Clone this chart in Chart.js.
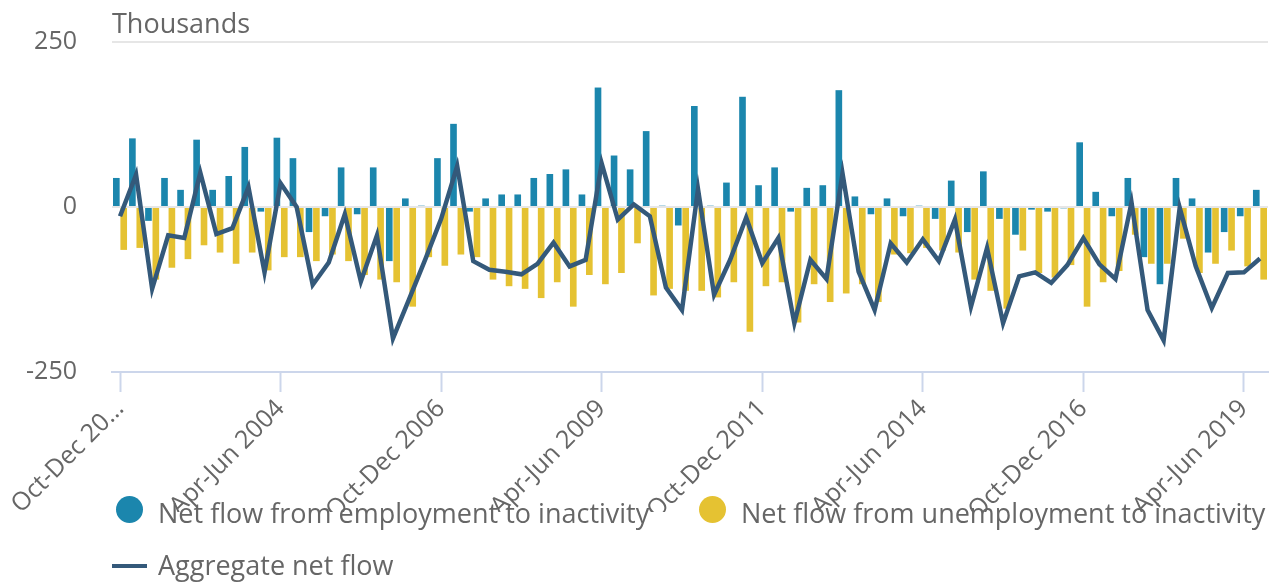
<!DOCTYPE html>
<html>
<head>
<meta charset="utf-8">
<script src="https://cdn.jsdelivr.net/npm/chart.js@4"></script>
<style>
  html, body { margin: 0; padding: 0; background: #fff; }
  #wrap { width: 1275px; height: 582px; position: relative; overflow: hidden; }
  #legend { position: absolute; left: 0; top: 0; width: 1275px; height: 582px; pointer-events: none;
            font-family: 'Open Sans', 'Noto Sans', sans-serif; font-size: 27px; color: #666; }
  .item { position: absolute; height: 30px; line-height: 30px; white-space: nowrap; }
  .marker { position: absolute; }
  .text { position: absolute; }
</style>
</head>
<body>
<div id="wrap">
  <canvas id="flow-chart"></canvas>
  <div id="legend"></div>
</div>
<script>
// --- 1. data (thousands) ---
const quarters = [
    "Oct-Dec 2001",
    "Jan-Mar 2002", "Apr-Jun 2002", "Jul-Sep 2002", "Oct-Dec 2002",
    "Jan-Mar 2003", "Apr-Jun 2003", "Jul-Sep 2003", "Oct-Dec 2003",
    "Jan-Mar 2004", "Apr-Jun 2004", "Jul-Sep 2004", "Oct-Dec 2004",
    "Jan-Mar 2005", "Apr-Jun 2005", "Jul-Sep 2005", "Oct-Dec 2005",
    "Jan-Mar 2006", "Apr-Jun 2006", "Jul-Sep 2006", "Oct-Dec 2006",
    "Jan-Mar 2007", "Apr-Jun 2007", "Jul-Sep 2007", "Oct-Dec 2007",
    "Jan-Mar 2008", "Apr-Jun 2008", "Jul-Sep 2008", "Oct-Dec 2008",
    "Jan-Mar 2009", "Apr-Jun 2009", "Jul-Sep 2009", "Oct-Dec 2009",
    "Jan-Mar 2010", "Apr-Jun 2010", "Jul-Sep 2010", "Oct-Dec 2010",
    "Jan-Mar 2011", "Apr-Jun 2011", "Jul-Sep 2011", "Oct-Dec 2011",
    "Jan-Mar 2012", "Apr-Jun 2012", "Jul-Sep 2012", "Oct-Dec 2012",
    "Jan-Mar 2013", "Apr-Jun 2013", "Jul-Sep 2013", "Oct-Dec 2013",
    "Jan-Mar 2014", "Apr-Jun 2014", "Jul-Sep 2014", "Oct-Dec 2014",
    "Jan-Mar 2015", "Apr-Jun 2015", "Jul-Sep 2015", "Oct-Dec 2015",
    "Jan-Mar 2016", "Apr-Jun 2016", "Jul-Sep 2016", "Oct-Dec 2016",
    "Jan-Mar 2017", "Apr-Jun 2017", "Jul-Sep 2017", "Oct-Dec 2017",
    "Jan-Mar 2018", "Apr-Jun 2018", "Jul-Sep 2018", "Oct-Dec 2018",
    "Jan-Mar 2019", "Apr-Jun 2019", "Jul-Sep 2019"
];

// net flow from employment to inactivity
const employmentFlow = [
    44, 104, -21, 44, 26, 102, 26, 47, 91, -7,
    105, 74, -38, -14, 60, -11, 60, -82, 13, 2,
    74, 126, -7, 13, 19, 19, 44, 50, 57, 19,
    181, 78, 57, 115, 2, -28, 153, 2, 37, 167,
    33, 60, -7, 29, 33, 177, 16, -11, 13, -14,
    2, -18, 40, -38, 54, -18, -42, -4, -7, -2,
    98, 23, -14, 44, -76, -117, 44, 13, -69, -38,
    -14, 26
];

// net flow from unemployment to inactivity
const unemploymentFlow = [
    -65, -62, -110, -92, -79, -58, -69, -86, -69, -96,
    -76, -76, -82, -72, -82, -103, -110, -114, -151, -76,
    -89, -72, -76, -110, -120, -124, -138, -114, -151, -103,
    -117, -100, -55, -134, -124, -127, -127, -137, -114, -189,
    -120, -114, -175, -117, -144, -131, -117, -144, -72, -70,
    -62, -66, -69, -110, -127, -154, -66, -100, -107, -88,
    -151, -114, -97, -42, -86, -86, -48, -100, -86, -66,
    -90, -110
];

// aggregate net flow
const aggregateFlow = [
    -14, 49, -124, -43, -47, 52, -41, -32, 30, -99,
    36, 0, -118, -84, -11, -113, -43, -199, -140, -80,
    -18, 62, -82, -95, -98, -102, -86, -54, -90, -80,
    66, -19, 4, -14, -122, -156, 27, -133, -80, -16,
    -85, -47, -176, -80, -109, 51, -98, -156, -55, -84,
    -49, -82, -19, -151, -62, -176, -105, -99, -115, -88,
    -47, -87, -109, 7, -156, -202, -1, -90, -153, -100,
    -99, -78
];

const yTicks = [-250, 0, 250];
const tickEvery = 10; // a label every 10 quarters

// --- 2. styles ---
const FONT = "'Open Sans', 'Noto Sans', sans-serif";
const TEXT_GREY = "#666666";
const AXIS_BLUE = "#ccd6eb";

// "Thousands" over the y axis
const unitLabel = {
    id: "unitLabel",
    afterDraw(chart) {
        const { ctx, chartArea } = chart;
        ctx.save();
        ctx.font = `27px ${FONT}`;
        ctx.fillStyle = TEXT_GREY;
        ctx.textAlign = "left";
        ctx.textBaseline = "alphabetic";
        ctx.fillText("Thousands", chartArea.left, chartArea.top - 9);
        ctx.restore();
    }
};

// --- 3. chart ---
const ctx = document.getElementById("flow-chart").getContext("2d");

const flowChart = new Chart(ctx, {
    data: {
        labels: quarters,
        datasets: [
            {
                type: "bar",
                label: "Net flow from employment to inactivity",
                data: employmentFlow,
                backgroundColor: "#1b86ad",
                borderWidth: 0,
                barPercentage: 0.9,
                categoryPercentage: 0.92,
                order: 1
            },
            {
                type: "bar",
                label: "Net flow from unemployment to inactivity",
                data: unemploymentFlow,
                backgroundColor: "#e5c232",
                borderWidth: 0,
                barPercentage: 0.9,
                categoryPercentage: 0.92,
                order: 2
            },
            {
                type: "line",
                label: "Aggregate net flow",
                data: aggregateFlow,
                borderColor: "#34597a",
                backgroundColor: "#34597a",
                borderWidth: 4.5,
                pointRadius: 0,
                tension: 0,
                order: 0 // drawn on top of the bars
            }
        ]
    },
    options: {
        responsive: true,
        maintainAspectRatio: false,
        animation: false,
        layout: {
            padding: { left: 0, right: 7, top: 42, bottom: 70 }
        },
        scales: {
            x: {
                offset: true,
                grid: {
                    offset: false,
                    drawOnChartArea: false,
                    drawTicks: true,
                    tickLength: 20,
                    tickWidth: 2,
                    tickColor: (c) => (c.index % tickEvery === 0 ? AXIS_BLUE : "rgba(0,0,0,0)")
                },
                border: { display: true, color: AXIS_BLUE, width: 2 },
                ticks: {
                    autoSkip: false,
                    minRotation: 45,
                    maxRotation: 45,
                    padding: 2,
                    color: TEXT_GREY,
                    font: { family: FONT, size: 25 },
                    callback: function (value, index) {
                        if (index % tickEvery !== 0) return "";
                        const label = this.getLabelForValue(value);
                        return index === 0 ? label.slice(0, 10) + "…" : label;
                    }
                },
                afterFit: (scale) => {
                    scale.height = 140;
                    scale.paddingLeft = 0;
                    scale.paddingRight = 0;
                }
            },
            y: {
                min: -250,
                max: 250,
                afterBuildTicks: (scale) => { scale.ticks = yTicks.map(v => ({ value: v })); },
                grid: {
                    color: (c) => (c.tick && c.tick.value === -250 ? "rgba(0,0,0,0)" : "#e6e6e6"),
                    lineWidth: 2,
                    drawTicks: false
                },
                border: { display: false },
                ticks: {
                    padding: 35,
                    color: TEXT_GREY,
                    font: { family: FONT, size: 25 }
                },
                afterFit: (scale) => {
                    scale.width = 112;
                    scale.paddingTop = 0;
                    scale.paddingBottom = 0;
                }
            }
        },
        plugins: {
            legend: { display: false },
            tooltip: { enabled: false }
        }
    },
    plugins: [unitLabel]
});

// --- 4. legend (html, laid over the bottom of the canvas) ---
const legendSpots = [
    { left: 116, top: 495 },  // first row
    { left: 699, top: 495 },
    { left: 112, top: 547 }   // second row
];

function buildLegend(chart) {
    const box = document.getElementById("legend");
    box.innerHTML = "";
    chart.data.datasets.forEach((ds, i) => {
        const spot = legendSpots[i];
        const item = document.createElement("div");
        item.className = "item";
        item.style.left = spot.left + "px";
        item.style.top = spot.top + "px";

        const marker = document.createElement("span");
        marker.className = "marker";
        if (ds.type === "line") {
            marker.style.left = "0px";
            marker.style.top = "17px";
            marker.style.width = "35px";
            marker.style.height = "4px";
            marker.style.background = ds.borderColor;
        } else {
            marker.style.left = "0px";
            marker.style.top = "1px";
            marker.style.width = "27px";
            marker.style.height = "27px";
            marker.style.borderRadius = "50%";
            marker.style.background = ds.backgroundColor;
        }

        const text = document.createElement("span");
        text.className = "text";
        text.style.left = (ds.type === "line" ? 46 : 42) + "px";
        text.style.top = "3px";
        text.textContent = ds.label;

        item.appendChild(marker);
        item.appendChild(text);
        box.appendChild(item);
    });
}

buildLegend(flowChart);
</script>
</body>
</html>
